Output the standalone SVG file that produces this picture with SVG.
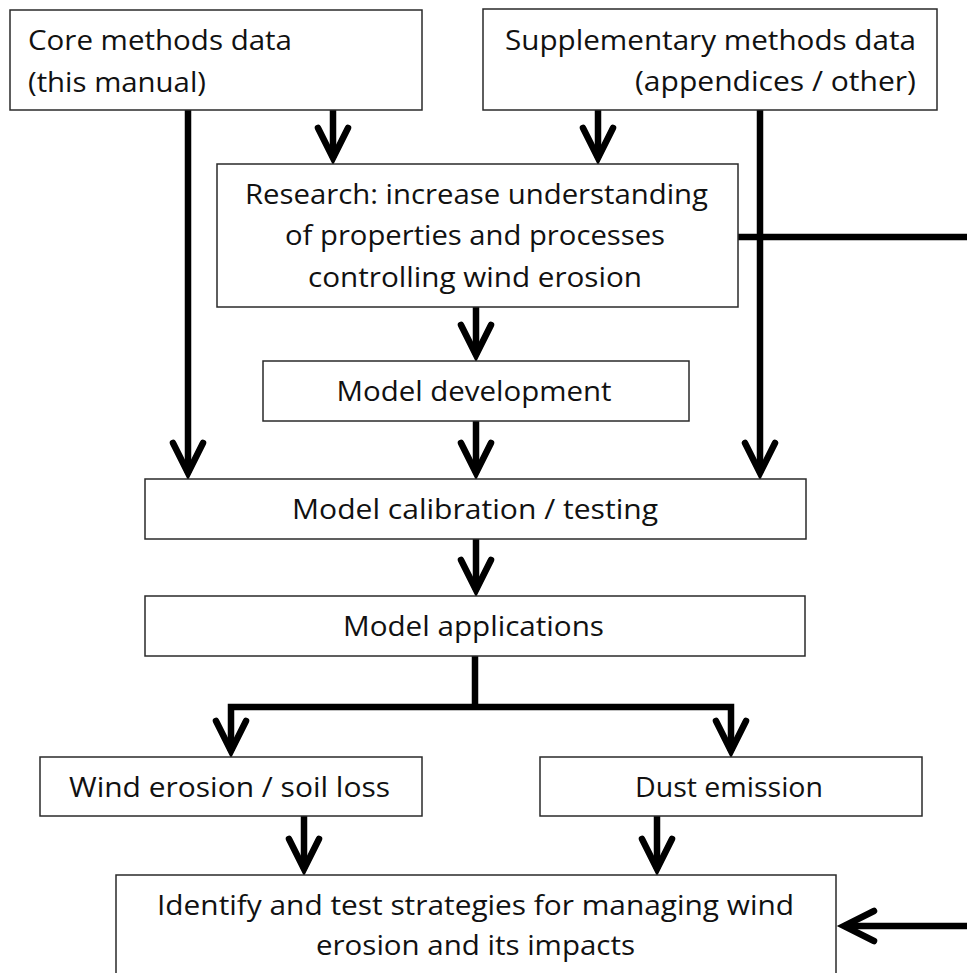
<svg xmlns="http://www.w3.org/2000/svg" width="967" height="973" viewBox="0 0 967 973">
<style>
.box{fill:#fff;stroke:#2a2a2a;stroke-width:1.5}
.t{font-family:"Open Sans","Noto Sans","Liberation Sans",sans-serif;font-size:27px;fill:#111}
.c{text-anchor:middle}
.r{text-anchor:end}
.ln{fill:none;stroke:#000;stroke-width:6.5;stroke-linecap:butt;stroke-linejoin:miter}
</style>
<defs>
<marker id="ah" markerUnits="userSpaceOnUse" viewBox="-40 -25 50 50" markerWidth="50" markerHeight="50" refX="0" refY="0" orient="auto">
<path d="M-30,-15 L0,0 L-30,15" fill="none" stroke="#000" stroke-width="6.5" stroke-linecap="round" stroke-linejoin="miter"/>
</marker>
</defs>
<rect width="967" height="973" fill="#fff"/>
<g id="connectors">
<line class="ln" x1="333" y1="110" x2="333" y2="158" marker-end="url(#ah)"/>
<line class="ln" x1="598" y1="110" x2="598" y2="158" marker-end="url(#ah)"/>
<line class="ln" x1="188" y1="110" x2="188" y2="473" marker-end="url(#ah)"/>
<line class="ln" x1="760" y1="110" x2="760" y2="473" marker-end="url(#ah)"/>
<line class="ln" x1="738" y1="237" x2="967" y2="237"/>
<line class="ln" x1="476" y1="307" x2="476" y2="355" marker-end="url(#ah)"/>
<line class="ln" x1="476" y1="421" x2="476" y2="473" marker-end="url(#ah)"/>
<line class="ln" x1="476" y1="539" x2="476" y2="590" marker-end="url(#ah)"/>
<line class="ln" x1="475" y1="656" x2="475" y2="707"/>
<polyline class="ln" points="231,751 231,707 731,707 731,751"/>
<line class="ln" x1="231" y1="745" x2="231" y2="751" marker-end="url(#ah)"/>
<line class="ln" x1="731" y1="745" x2="731" y2="751" marker-end="url(#ah)"/>
<line class="ln" x1="304" y1="816" x2="304" y2="869" marker-end="url(#ah)"/>
<line class="ln" x1="657" y1="816" x2="657" y2="869" marker-end="url(#ah)"/>
<line class="ln" x1="967" y1="926" x2="844" y2="926" marker-end="url(#ah)"/>
</g>
<g id="core">
<rect class="box" x="10" y="10" width="412" height="100"/>
<text class="t" x="28" y="50" textLength="264" lengthAdjust="spacingAndGlyphs">Core methods data</text>
<text class="t" x="28" y="92" textLength="178" lengthAdjust="spacingAndGlyphs">(this manual)</text>
</g>
<g id="supplementary">
<rect class="box" x="483" y="9" width="454" height="101"/>
<text class="t r" x="916" y="50" textLength="411" lengthAdjust="spacingAndGlyphs">Supplementary methods data</text>
<text class="t r" x="916" y="91" textLength="281" lengthAdjust="spacingAndGlyphs">(appendices / other)</text>
</g>
<g id="research">
<rect class="box" x="217" y="164" width="521" height="143"/>
<text class="t c" x="476.5" y="204" textLength="463" lengthAdjust="spacingAndGlyphs">Research: increase understanding</text>
<text class="t c" x="475" y="245" textLength="380" lengthAdjust="spacingAndGlyphs">of properties and processes</text>
<text class="t c" x="475" y="287" textLength="334" lengthAdjust="spacingAndGlyphs">controlling wind erosion</text>
</g>
<g id="model-development">
<rect class="box" x="263" y="361" width="426" height="60"/>
<text class="t c" x="474" y="401" textLength="275" lengthAdjust="spacingAndGlyphs">Model development</text>
</g>
<g id="model-calibration">
<rect class="box" x="145" y="479" width="661" height="60"/>
<text class="t c" x="475" y="519" textLength="366" lengthAdjust="spacingAndGlyphs">Model calibration / testing</text>
</g>
<g id="model-applications">
<rect class="box" x="145" y="596" width="660" height="60"/>
<text class="t c" x="473.5" y="636" textLength="261" lengthAdjust="spacingAndGlyphs">Model applications</text>
</g>
<g id="wind-erosion">
<rect class="box" x="40" y="757" width="382" height="59"/>
<text class="t c" x="229.5" y="797" textLength="321" lengthAdjust="spacingAndGlyphs">Wind erosion / soil loss</text>
</g>
<g id="dust-emission">
<rect class="box" x="540" y="757" width="382" height="59"/>
<text class="t c" x="729" y="797" textLength="188" lengthAdjust="spacingAndGlyphs">Dust emission</text>
</g>
<g id="identify">
<rect class="box" x="116" y="875" width="720" height="110"/>
<text class="t c" x="475.5" y="915" textLength="637" lengthAdjust="spacingAndGlyphs">Identify and test strategies for managing wind</text>
<text class="t c" x="475.5" y="955" textLength="319" lengthAdjust="spacingAndGlyphs">erosion and its impacts</text>
</g>
</svg>
